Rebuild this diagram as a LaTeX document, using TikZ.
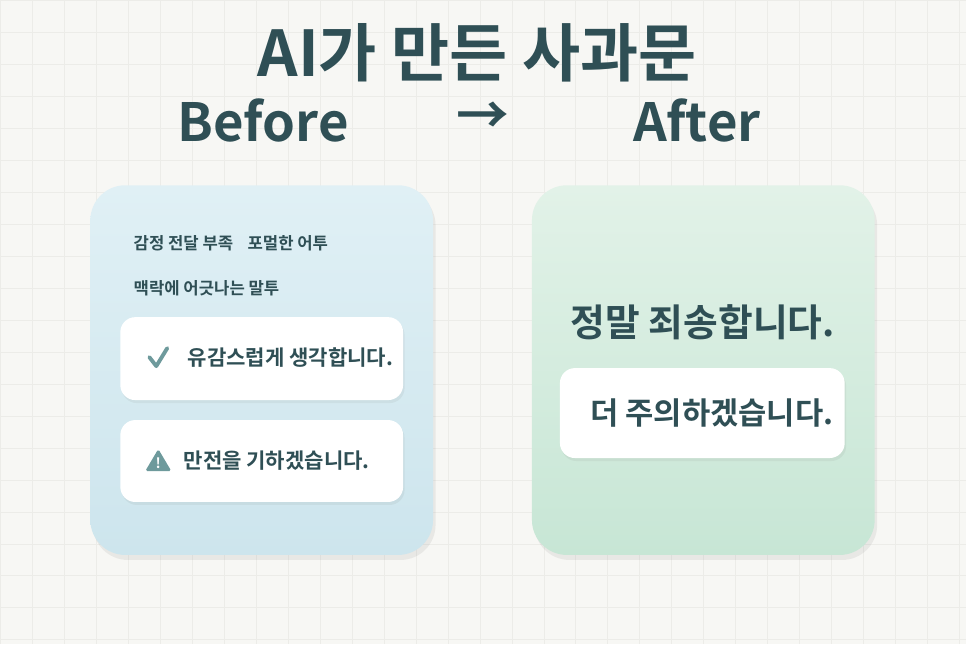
\documentclass[tikz,border=0pt]{standalone}
\usepackage{fontspec}
\setmainfont{Noto Sans CJK KR}
\newfontfamily\krbold{Noto Sans CJK KR}[BoldFont=*, UprightFont=* Bold]
\usetikzlibrary{positioning,calc,shadows}
\definecolor{ink}{HTML}{2F4F55}
\definecolor{bgpaper}{HTML}{F7F7F4}
\definecolor{gridln}{HTML}{ECECE8}
\definecolor{bluea}{HTML}{E0F0F5}
\definecolor{blueb}{HTML}{CDE5ED}
\definecolor{minta}{HTML}{E2F2E8}
\definecolor{mintb}{HTML}{C7E6D5}
\definecolor{iconc}{HTML}{6E9A9C}
\tikzset{
  card/.style={rounded corners=0.7cm, drop shadow={opacity=0.12, shadow xshift=0.05cm, shadow yshift=-0.1cm}},
  msgbox/.style={fill=white, rounded corners=0.3cm, drop shadow={opacity=0.1, shadow xshift=0.03cm, shadow yshift=-0.06cm}},
  tag/.style={text=ink, font=\krbold\fontsize{9.5}{11}\selectfont, anchor=west, inner sep=0pt},
  head/.style={text=ink, font=\krbold\fontsize{30}{34}\selectfont, inner sep=0pt}
}
\begin{document}
\begin{tikzpicture}[x=0.02cm, y=-0.02cm]
  % background with faint grid
  \fill[bgpaper] (0,0) rectangle (966,644);
  \foreach \gx in {0,32,...,966} \draw[gridln, line width=0.5pt] (\gx,0) -- (\gx,644);
  \foreach \gy in {0,32,...,644} \draw[gridln, line width=0.5pt] (0,\gy) -- (966,\gy);
  \useasboundingbox (0,0) rectangle (966,644);

  % headings
  \node[head, font=\krbold\fontsize{36}{40}\selectfont] (title) at (477,52) {AI가 만든 사과문};
  \node[head] (before) at (263,120) {Before};
  \node[head] (arrow) at (483,118) {→};
  \node[head] (after) at (697,120) {After};

  % left card
  \shade[card, top color=bluea, bottom color=blueb] (90,185) rectangle (433,555);
  \node[tag] (t1) at (133,243) {감정 전달 부족};
  \node[tag] (t2) at (247,243) {포멀한 어투};
  \node[tag] (t3) at (133,288) {맥락에 어긋나는 말투};
  \fill[msgbox] (120,317) rectangle (403,400);
  \draw[iconc, line width=2.2pt, line cap=round, line join=round] (149,357) -- (156,366) -- (167,348);
  \node[tag, font=\krbold\fontsize{12}{14}\selectfont] (m1) at (187,357) {유감스럽게 생각합니다.};
  \fill[msgbox] (120,420) rectangle (403,502);
  \fill[iconc, rounded corners=1pt] (158,449) -- (171,471) -- (145,471) -- cycle;
  \node[text=white, font=\krbold\fontsize{8}{9}\selectfont, inner sep=0pt] (warn) at (158,463) {!};
  \node[tag, font=\krbold\fontsize{12}{14}\selectfont] (m2) at (183,461) {만전을 기하겠습니다.};

  % right card
  \shade[card, top color=minta, bottom color=mintb] (532,185) rectangle (875,555);
  \node[head, font=\krbold\fontsize{21.5}{25}\selectfont] (sorry) at (703,322) {정말 죄송합니다.};
  \fill[msgbox] (560,368) rectangle (845,458);
  \node[tag, font=\krbold\fontsize{17.5}{20}\selectfont] (m3) at (590,413) {더 주의하겠습니다.};
\end{tikzpicture}
\end{document}
